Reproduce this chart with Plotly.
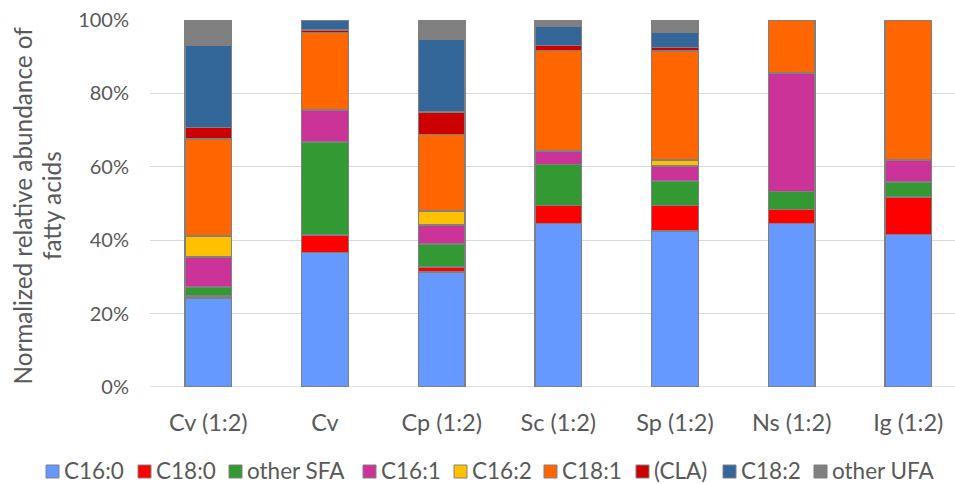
import plotly.graph_objects as go

# Samples (x categories)
samples = ["Cv (1:2)", "Cv", "Cp (1:2)", "Sc (1:2)", "Sp (1:2)", "Ns (1:2)", "Ig (1:2)"]

# Normalized relative abundance (%) of each fatty-acid group per sample
c16_0 = [24.2, 36.6, 31.4, 44.5, 42.5, 44.5, 41.5]
c18_0 = [0.6, 4.8, 1.3, 4.9, 6.9, 3.9, 10.3]
other_sfa = [2.4, 25.4, 6.2, 11.2, 6.7, 4.9, 4.1]
c16_1 = [8.2, 8.7, 5.3, 3.6, 4.1, 32.2, 5.9]
c16_2 = [5.8, 0.0, 3.8, 0.3, 1.6, 0.0, 0.0]
c18_1 = [26.4, 21.1, 20.8, 27.2, 29.8, 14.3, 38.2]
cla = [3.1, 0.7, 6.2, 1.4, 0.9, 0.0, 0.0]
c18_2 = [22.5, 2.7, 19.7, 5.1, 4.1, 0.0, 0.0]
other_ufa = [6.8, 0.0, 5.3, 2.0, 3.4, 0.0, 0.0]

series_names = ["C16:0", "C18:0", "other SFA", "C16:1", "C16:2", "C18:1", "(CLA)", "C18:2", "other UFA"]
series_values = [c16_0, c18_0, other_sfa, c16_1, c16_2, c18_1, cla, c18_2, other_ufa]
series_colors = ["#6699FF", "#FF0000", "#339933", "#CC3399", "#FFC000",
                 "#FF6600", "#CC0000", "#336699", "#808080"]

y_ticks = [0, 20, 40, 60, 80, 100]
y_tick_text = ["0%", "20%", "40%", "60%", "80%", "100%"]

FONT = "Lato, Open Sans, sans-serif"
TXT = "#595959"
EDGE = "#808080"

# Figure geometry (pixels)
W, H = 955, 484
ML, MR, MT, MB = 150, 0, 20, 97
PW, PH = W - ML - MR, H - MT - MB


def px_x(px):
    return (px - ML) / PW


def px_y(py):
    return (H - MB - py) / PH


fig = go.Figure()
for name, vals, col in zip(series_names, series_values, series_colors):
    fig.add_trace(go.Bar(
        x=samples, y=vals, name=name,
        marker=dict(color=col, line=dict(color=EDGE, width=1.5)),
        width=0.4,
    ))

# Legend row along the bottom: swatch + label per series
legend_left = [45, 137, 228, 362, 453, 543, 635, 722, 813]
legend_cy = 470.5
sw = 13
shapes = []
annotations = []
for name, col, lx in zip(series_names, series_colors, legend_left):
    shapes.append(dict(
        type="rect", xref="paper", yref="paper",
        x0=px_x(lx + 1), x1=px_x(lx + 1 + sw),
        y0=px_y(legend_cy + 1 + sw / 2), y1=px_y(legend_cy + 1 - sw / 2),
        fillcolor=col, line=dict(color=EDGE, width=1),
    ))
    annotations.append(dict(
        text=name, xref="paper", yref="paper",
        x=px_x(lx + 18), y=px_y(legend_cy),
        xanchor="left", yanchor="middle", showarrow=False,
        borderpad=0,
        font=dict(size=22.5, color=TXT, family=FONT),
    ))

# Two-line vertical axis title
for line, cx in [("Normalized relative abundance of", 22.5), ("fatty acids", 52)]:
    annotations.append(dict(
        text=line, xref="paper", yref="paper",
        x=px_x(cx), y=px_y(206),
        xanchor="center", yanchor="middle", textangle=-90,
        showarrow=False, font=dict(size=24.3, color=TXT, family=FONT),
    ))

fig.update_layout(
    barmode="stack",
    width=W, height=H,
    margin=dict(l=ML, r=MR, t=MT, b=MB),
    paper_bgcolor="white", plot_bgcolor="white",
    font=dict(family=FONT, color=TXT),
    showlegend=False,
    xaxis=dict(
        range=[-0.5, 6.4], showgrid=False, showline=False, zeroline=False,
        tickfont=dict(size=23.5, color=TXT), ticklabelstandoff=19,
        fixedrange=True,
    ),
    yaxis=dict(
        range=[0, 100], tickvals=y_ticks, ticktext=y_tick_text,
        showgrid=True, gridcolor="#D9D9D9", gridwidth=1.3,
        zeroline=False, showline=False,
        tickfont=dict(size=20, color=TXT), ticklabelstandoff=20,
    ),
    shapes=shapes,
    annotations=annotations,
)

# Gridline at 0% along the bar baseline
fig.add_shape(type="line", xref="paper", yref="y", x0=0, x1=1, y0=0, y1=0,
              line=dict(color="#D9D9D9", width=1.3), layer="below")

fig.write_html("out.html")
